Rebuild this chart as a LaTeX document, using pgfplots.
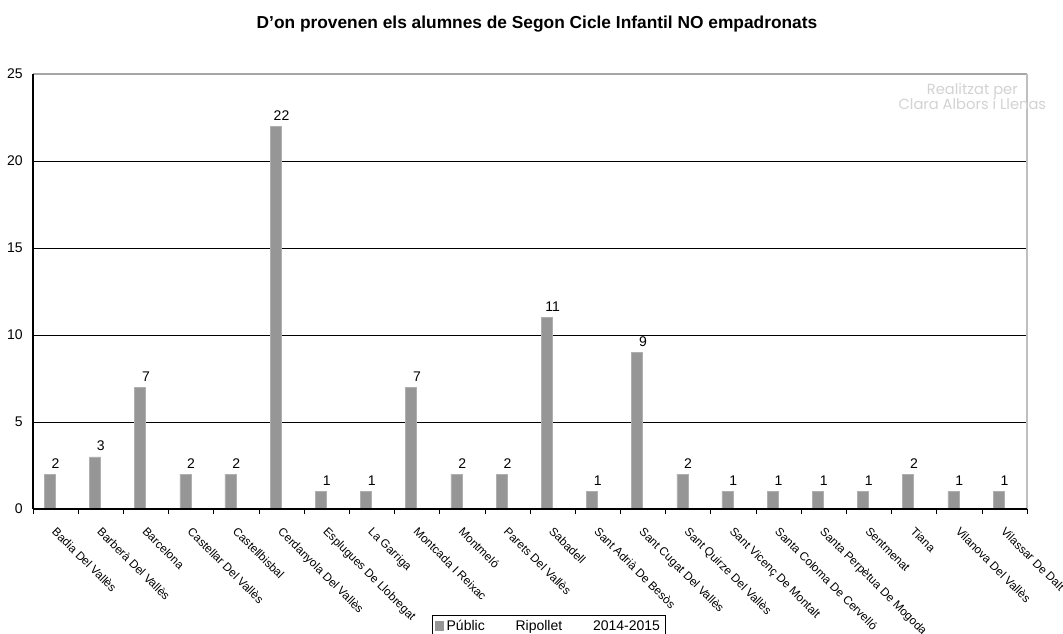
\documentclass[border=0pt]{standalone}
\usepackage{pgfplots}
\pgfplotsset{compat=1.18}
\usepackage{fontspec}
\setmainfont{Liberation Sans}
\newfontfamily\wmfont{Poppins}
\definecolor{bargray}{RGB}{150,150,150}
\definecolor{edgegray}{RGB}{175,175,175}
\definecolor{wmgray}{RGB}{210,210,210}

\pgfplotstableread{
x val
0 2
1 3
2 7
3 2
4 2
5 22
6 1
7 1
8 7
9 2
10 2
11 11
12 1
13 9
14 2
15 1
16 1
17 1
18 1
19 2
20 1
21 1
}\municipis

\begin{document}
\begin{tikzpicture}[x=0.75pt,y=0.75pt]
% page = 1063 x 634 px, axis origin at (33,509) px
\path[use as bounding box] (-33,-125) rectangle (1030,509);
\begin{axis}[
    at={(0,0)}, anchor=south west,
    scale only axis,
    width=745.5pt, height=326.25pt,
    xmin=-0.5, xmax=21.5,
    ymin=0, ymax=25,
    ytick={0,5,...,25},
    xtick={0,...,21},
    minor xtick={-0.5,0.5,...,21.5},
    xtick pos=bottom,
    xticklabels={Badia Del Vallès, Barberà Del Vallès, Barcelona, Castellar Del Vallès, Castellbisbal, Cerdanyola Del Vallès, Esplugues De Llobregat, La Garriga, Montcada I Reixac, Montmeló, Parets Del Vallès, Sabadell, Sant Adrià De Besòs, Sant Cugat Del Vallès, Sant Quirze Del Vallès, Sant Vicenç De Montalt, Santa Coloma De Cervelló, Santa Perpètua De Mogoda, Sentmenat, Tiana, Vilanova Del Vallès, Vilassar De Dalt},
    xticklabel style={rotate=-45, anchor=north west, font=\fontsize{8.8}{10}\selectfont, inner sep=1pt, xshift=6pt, yshift=-4pt},
    yticklabel style={font=\fontsize{10.5}{12}\selectfont},
    /pgf/number format/assume math mode=true,
    major x tick style={draw=none},
    minor x tick style={black, thin},
    minor tick length=4pt,
    ytick style={draw=none},
    tick align=outside,
    ymajorgrids,
    major grid style={black, line width=0.6pt},
    axis line style={draw=none},
    clip=false,
    legend style={at={(0.519,-0.243)}, anchor=north, draw=black, line width=0.6pt,
      font=\fontsize{10.5}{12}\selectfont, inner sep=2pt, row sep=0pt,
      /tikz/every even column/.append style={column sep=2pt}},
    legend image code/.code={\fill[bargray] (0cm,-0.11cm) rectangle (0.22cm,0.13cm);},
]
\addplot[ybar, bar width=8.25pt, bar shift=-4.4pt, fill=bargray, draw=edgegray, line width=0.4pt,
    nodes near coords, every node near coord/.append style={font=\fontsize{10.5}{12}\selectfont, black, yshift=1pt}]
    table[x=x, y=val] {\municipis};
\addlegendentry{Públic\hspace{2.2em}Ripollet\hspace{2.2em}2014-2015}
% frame
\draw[gray!70, line width=0.8pt] (axis cs:-0.5,25) -- (axis cs:21.5,25);
\draw[gray!50, line width=0.8pt] (axis cs:21.5,0) -- (axis cs:21.5,25);
\draw[black, line width=0.8pt] (axis cs:-0.5,0) -- (axis cs:-0.5,25);
\draw[black, line width=1.4pt] (axis cs:-0.5,0) -- (axis cs:21.5,0);
% watermark
\node[wmgray, font=\wmfont\fontsize{11}{13}\selectfont, align=center] at (rel axis cs:0.945,0.949) {Realitzat per\\[-2pt]Clara Albors i Llenas};
% title
\node[font=\bfseries\fontsize{13}{15}\selectfont] at (rel axis cs:0.507,1.115) {D'on provenen els alumnes de Segon Cicle Infantil NO empadronats};
\end{axis}
\end{tikzpicture}
\end{document}
